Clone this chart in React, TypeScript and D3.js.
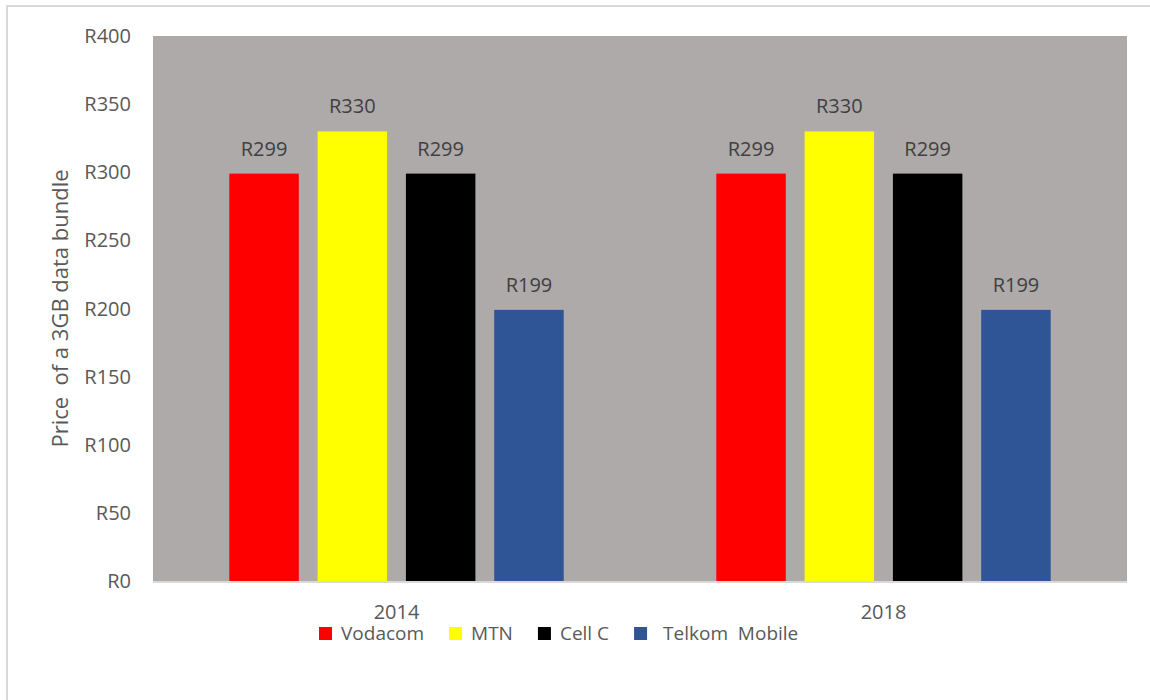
import React, { useEffect, useRef } from "react";
import * as d3 from "d3";

const years = ["2014", "2018"];
const operators = ["Vodacom", "MTN", "Cell C", "Telkom  Mobile"];
const operatorColors = ["#ff0000", "#ffff00", "#000000", "#2f5597"];
const prices2014 = [299, 330, 299, 199];
const prices2018 = [299, 330, 299, 199];
const yTicks = [0, 50, 100, 150, 200, 250, 300, 350, 400];
const yTitle = "Price  of a 3GB data bundle";

const FONT = "'Open Sans', sans-serif";

export default function App() {
  const ref = useRef<SVGSVGElement>(null);

  useEffect(() => {
    const svg = d3.select(ref.current);
    svg.selectAll("*").remove();

    const W = 1150, H = 700;
    const left = 153, right = 1127, top = 36, bottom = 581;

    // frame
    svg.append("rect").attr("x", 7).attr("y", 6).attr("width", W + 20).attr("height", H + 20)
      .attr("fill", "#ffffff").attr("stroke", "#d9d9d9").attr("stroke-width", 2);

    // plot area
    svg.append("rect").attr("x", left).attr("y", top).attr("width", right - left).attr("height", bottom - top)
      .attr("fill", "#aeaaaa");

    const y = d3.scaleLinear().domain([0, 400]).range([bottom, top]);
    const x0 = d3.scaleBand<string>().domain(years).range([left, right]).padding(0);
    const x1 = d3.scaleBand<string>().domain(operators).range([0, x0.bandwidth()])
      .paddingInner(0.213).paddingOuter(0.864);

    const seriesByYear = [prices2014, prices2018];

    // baseline
    svg.append("line").attr("x1", left).attr("x2", right).attr("y1", bottom + 1).attr("y2", bottom + 1)
      .attr("stroke", "#d9d9d9").attr("stroke-width", 2);

    // y tick labels
    svg.append("g").selectAll("text").data(yTicks).join("text")
      .attr("x", 131).attr("y", (d) => y(d) + 7)
      .attr("text-anchor", "end").attr("font-family", FONT).attr("font-size", 20)
      .attr("fill", "#595959").text((d) => `R${d}`);

    // y title
    svg.append("text")
      .attr("transform", `translate(68, ${(top + bottom) / 2}) rotate(-90)`)
      .attr("text-anchor", "middle").attr("font-family", FONT).attr("font-size", 22)
      .attr("fill", "#595959").style("white-space", "pre").text(yTitle);

    // bars
    years.forEach((yr, yi) => {
      const g = svg.append("g").attr("transform", `translate(${x0(yr)},0)`);
      const vals = seriesByYear[yi];
      g.selectAll("rect").data(operators).join("rect")
        .attr("x", (d) => x1(d)!)
        .attr("width", x1.bandwidth())
        .attr("y", (d, i) => y(vals[i]))
        .attr("height", (d, i) => bottom - y(vals[i]))
        .attr("fill", (d, i) => operatorColors[i]);
      g.selectAll("text").data(operators).join("text")
        .attr("x", (d) => x1(d)! + x1.bandwidth() / 2)
        .attr("y", (d, i) => y(vals[i]) - 18)
        .attr("text-anchor", "middle").attr("font-family", FONT).attr("font-size", 20)
        .attr("fill", "#404040").text((d, i) => `R${vals[i]}`);
    });

    // category labels
    svg.append("g").selectAll("text").data(years).join("text")
      .attr("x", (d) => x0(d)! + x0.bandwidth() / 2).attr("y", 619)
      .attr("text-anchor", "middle").attr("font-family", FONT).attr("font-size", 20)
      .attr("fill", "#595959").text((d) => d);

    // legend
    const lg = svg.append("g");
    let cx = 319;
    operators.forEach((op, i) => {
      lg.append("rect").attr("x", cx).attr("y", 627).attr("width", 13).attr("height", 13)
        .attr("fill", operatorColors[i]);
      const gap = i === 3 ? 16 : 9;
      const t = lg.append("text").attr("x", cx + 13 + gap).attr("y", 640)
        .attr("font-family", FONT).attr("font-size", 19).attr("fill", "#595959")
        .style("white-space", "pre").text(op);
      const w = (t.node() as SVGTextElement).getComputedTextLength();
      cx = cx + 13 + gap + w + 25;
    });
  }, []);

  return (
    <svg
      ref={ref}
      width={1150}
      height={700}
      style={{ position: "absolute", left: 0, top: 0, display: "block", background: "#fff" }}
    />
  );
}
